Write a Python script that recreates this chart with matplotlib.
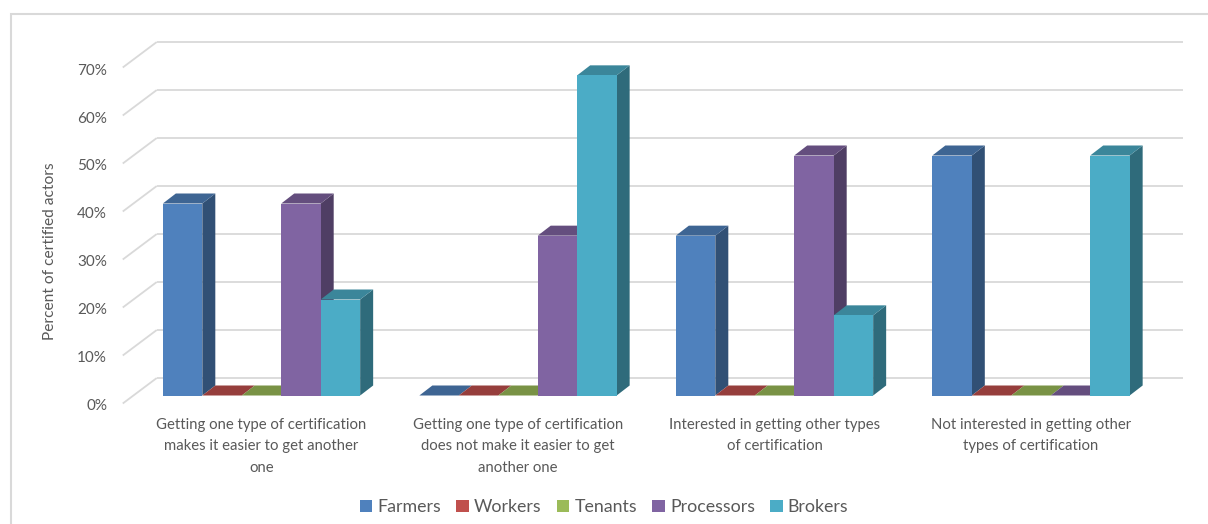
import numpy as np
import matplotlib.pyplot as plt
from matplotlib.patches import Polygon, Patch, Rectangle
from matplotlib.colors import to_rgb

categories = [
    "Getting one type of certification\nmakes it easier to get another\none",
    "Getting one type of certification\ndoes not make it easier to get\nanother one",
    "Interested in getting other types\nof certification",
    "Not interested in getting other\ntypes of certification",
]
series_names = ["Farmers", "Workers", "Tenants", "Processors", "Brokers"]
farmers = [40.0, 0.0, 33.3, 50.0]
workers = [0.0, 0.0, 0.0, 0.0]
tenants = [0.0, 0.0, 0.0, 0.0]
processors = [40.0, 33.3, 50.0, 0.0]
brokers = [20.0, 66.7, 16.7, 50.0]
yticks = [0, 10, 20, 30, 40, 50, 60, 70]

colors = ["#4F81BD", "#C0504D", "#9BBB59", "#8064A2", "#4BACC6"]
text_color = "#595959"
grid_color = "#D9D9D9"

W, H = 1208, 524
# pixel scale of the oblique view
px_per_cat = 256.5
px_per_pct = 4.8
x0_px, y0_px = 261.5, 395.5  # center of first group, base of bar faces


def sx(px):
    return px / px_per_cat


def sy(px):
    return px / px_per_pct


def shade(c, f):
    r, g, b = to_rgb(c)
    return (r * f, g * f, b * f)


plt.rcParams["font.family"] = ["Lato", "DejaVu Sans"]

fig = plt.figure(figsize=(W / 100, H / 100), dpi=100)
ax = fig.add_axes([0, 0, 1, 1])
ax.set_xlim(sx(-x0_px), sx(W - x0_px))
ax.set_ylim(sy(y0_px - H), sy(y0_px))
ax.axis("off")

# outer chart border
fig.patches.append(Rectangle((11 / W, -0.1), 1.2, 1.1 - 14 / H,
                             transform=fig.transFigure, fill=False,
                             edgecolor=grid_color, linewidth=1.5))

n_cat = len(categories)
# walls: front plane is 10.5px left / 8px below bar faces, back 23.5px right / 17.5px up
front_dx, front_dy = sx(-10.5), sy(-8)
back_dx, back_dy = sx(23.5), sy(17.5)
left = -0.5
right = n_cat - 0.5
for v in yticks:
    ax.plot([left + front_dx, left + back_dx], [v + front_dy, v + back_dy],
            color=grid_color, lw=1.3, zorder=1, solid_capstyle="butt")
    ax.plot([left + back_dx, right + back_dx], [v + back_dy, v + back_dy],
            color=grid_color, lw=1.3, zorder=1, solid_capstyle="butt")
    ax.text(sx(107 - x0_px), v + front_dy - sy(3), f"{v}%", ha="right", va="center",
            fontsize=11, color=text_color)

ax.text(sx(50 - x0_px), sy(y0_px - 251), "Percent of certified actors", rotation=90,
        ha="center", va="center", fontsize=11.2, color=text_color)

# bars
values = [farmers, workers, tenants, processors, brokers]
n_ser = len(values)
bw = 1 / (n_ser + 1.5)
ddx, ddy = sx(13), sy(10)
xc = np.arange(n_cat)
for k, (vals, col) in enumerate(zip(values, colors)):
    xs = xc + (k - (n_ser - 1) / 2) * bw
    z = 10 + 3 * k
    for x, v in zip(xs, vals):
        xl, xr = x - bw / 2, x + bw / 2
        side = Polygon([(xr, 0), (xr + ddx, ddy), (xr + ddx, v + ddy), (xr, v)],
                       closed=True, facecolor=shade(col, 0.62), edgecolor="none", zorder=z)
        top = Polygon([(xl, v), (xl + ddx, v + ddy), (xr + ddx, v + ddy), (xr, v)],
                      closed=True, facecolor=shade(col, 0.78), edgecolor="none", zorder=z + 1)
        ax.add_patch(side)
        ax.add_patch(top)
    ax.bar(xs, vals, width=bw, color=col, linewidth=0, zorder=z + 2)

# category labels
for x, lab in zip(xc, categories):
    ax.text(x, sy(y0_px - 418), lab, ha="center", va="top", fontsize=10.7,
            color=text_color, linespacing=1.68)

handles = [Patch(facecolor=c, edgecolor="none") for c in colors]
ax.legend(handles, series_names, loc="center", bbox_to_anchor=(0.5, 1 - 507 / H),
          bbox_transform=fig.transFigure, ncol=5, frameon=False, fontsize=12.8,
          handlelength=0.7, handleheight=0.7, handletextpad=0.3,
          columnspacing=0.85, labelcolor=text_color)

fig.savefig("out.png", dpi=100)
